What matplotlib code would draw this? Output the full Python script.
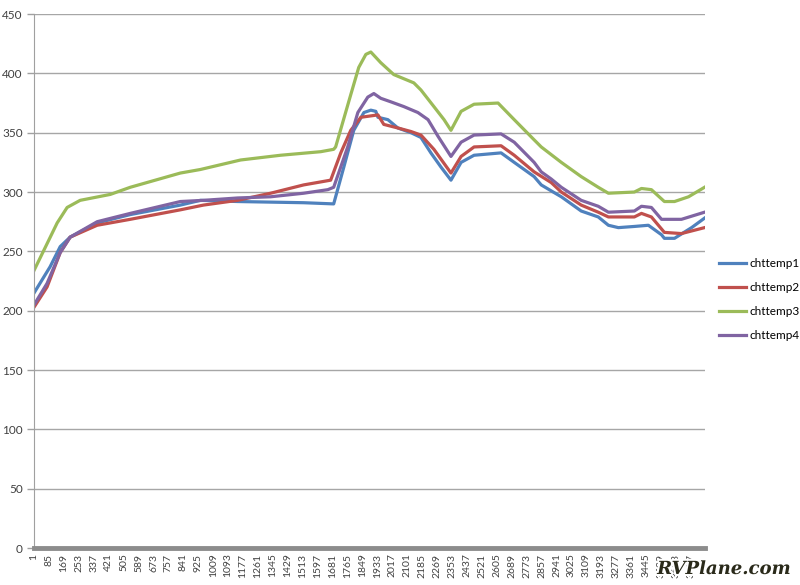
import matplotlib.pyplot as plt
import matplotlib.patheffects as pe

plt.rcParams['font.family'] = ['Lato', 'DejaVu Sans']

n_points = 3775
tick_step = 84

series_names = ['chttemp1', 'chttemp2', 'chttemp3', 'chttemp4']
colors = ['#4F81BD', '#C0504D', '#9BBB59', '#8064A2']

# sample index / temperature
x1 = [1, 91, 148, 204, 356, 542, 824, 937, 1146, 1518, 1687, 1744, 1800, 1857, 1896, 1924, 1936,
      1992, 2048, 2122, 2178, 2234, 2291, 2347, 2404, 2477, 2629, 2703, 2815, 2855, 2911, 2968,
      3080, 3176, 3233, 3289, 3379, 3458, 3532, 3548, 3605, 3701, 3774]
y1 = [215, 237, 254, 262, 274, 281, 289, 293, 292, 291, 290, 321, 352, 367, 369, 368, 363,
      361, 354, 350, 346, 333, 321, 310, 325, 331, 333, 325, 313, 306, 301, 296,
      284, 279, 272, 270, 271, 272, 264, 261, 261, 270, 278]

x2 = [1, 74, 148, 204, 356, 542, 824, 954, 1146, 1332, 1518, 1670, 1727, 1783, 1840, 1936, 1969,
      2048, 2122, 2178, 2251, 2347, 2404, 2477, 2629, 2703, 2815, 2911, 2968, 3080, 3176, 3233,
      3379, 3419, 3475, 3548, 3644, 3774]
y2 = [203, 220, 249, 262, 272, 277, 285, 289, 293, 299, 306, 310, 333, 352, 363, 365, 357,
      354, 351, 348, 336, 316, 330, 338, 339, 331, 317, 308, 300, 289, 283, 279,
      279, 282, 279, 266, 265, 270]

x3 = [1, 131, 187, 260, 430, 542, 824, 937, 1163, 1388, 1614, 1687, 1698, 1783, 1828, 1868, 1896,
      1952, 2025, 2138, 2178, 2251, 2308, 2347, 2404, 2477, 2612, 2703, 2815, 2855, 2968, 3080,
      3176, 3233, 3379, 3419, 3475, 3548, 3605, 3684, 3774]
y3 = [234, 274, 287, 293, 298, 304, 316, 319, 327, 331, 334, 336, 338, 382, 405, 416, 418,
      409, 399, 392, 386, 372, 361, 352, 368, 374, 375, 361, 344, 338, 325, 313,
      304, 299, 300, 303, 302, 292, 292, 296, 304]

x4 = [1, 74, 148, 204, 356, 542, 824, 954, 1146, 1332, 1518, 1654, 1687, 1766, 1823, 1879, 1913,
      1952, 2009, 2082, 2161, 2218, 2274, 2347, 2404, 2477, 2629, 2703, 2815, 2855, 2911, 2968,
      3080, 3176, 3233, 3379, 3419, 3475, 3532, 3644, 3774]
y4 = [205, 223, 249, 262, 275, 282, 292, 293, 295, 296, 299, 302, 304, 338, 367, 380, 383,
      379, 376, 372, 367, 361, 347, 330, 342, 348, 349, 342, 325, 317, 311, 304,
      293, 288, 283, 284, 288, 287, 277, 277, 283]

xs = [x1, x2, x3, x4]
ys = [y1, y2, y3, y4]

fig = plt.figure(figsize=(8, 5.85), dpi=100)
ax = fig.add_axes([0.0425, 0.0632, 0.8385, 0.9128])

for x, y, name, c in zip(xs, ys, series_names, colors):
    ax.plot(x, y, color=c, lw=2.3, label=name)

ax.set_ylim(0, 450)
ax.set_xlim(0.5, n_points + 0.5)
ax.set_yticks(range(0, 451, 50))
ax.set_xticks(range(1, n_points, tick_step))
ax.set_xticklabels([str(v) for v in range(1, n_points, tick_step)], rotation=90, fontsize=7.5,
                   color='#404040')
ax.tick_params(axis='y', labelsize=8.5, labelcolor='#404040', color='#A0A0A0', length=5, width=1,
               pad=3)
ax.tick_params(axis='x', length=0, pad=4)
ax.grid(axis='y', color='#A6A6A6', lw=1)
ax.set_axisbelow(True)

for s in ['top', 'right']:
    ax.spines[s].set_visible(False)
ax.spines['left'].set_color('#A0A0A0')
ax.spines['bottom'].set_color('#8C8C8C')
ax.spines['bottom'].set_linewidth(3.5)

ax.legend(loc='center left', bbox_to_anchor=(1.005, 0.465), frameon=False, fontsize=8.5,
          handlelength=2.3, labelspacing=1.1, handletextpad=0.3)

fig.text(0.988, 0.012, 'RVPlane.com', ha='right', va='bottom', fontsize=13, fontweight='bold',
         fontstyle='italic', family='DejaVu Serif', color='#2a2a1a',
         path_effects=[pe.withStroke(linewidth=3, foreground='white')])

fig.savefig('out.png', dpi=100)
